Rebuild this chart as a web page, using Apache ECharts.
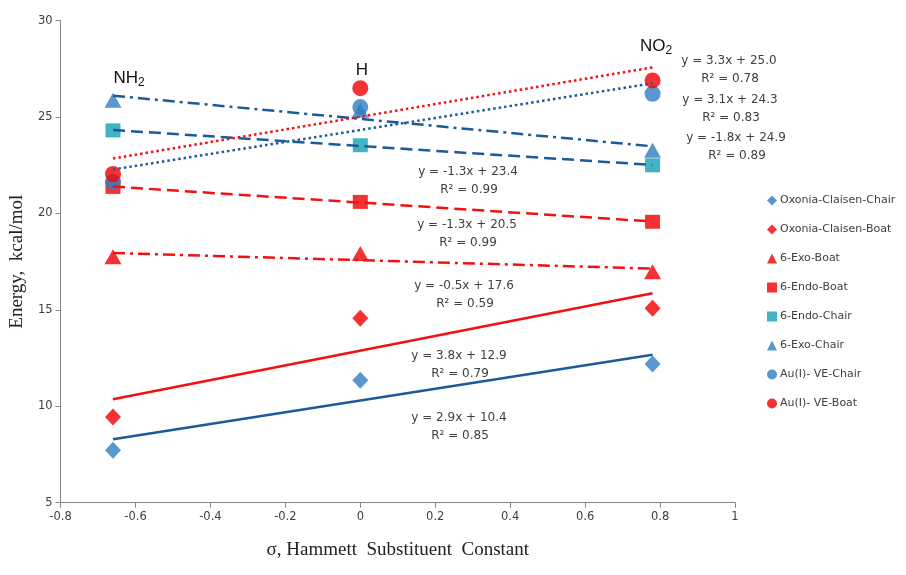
<!DOCTYPE html>
<html>
<head>
<meta charset="utf-8">
<script src="https://cdn.jsdelivr.net/npm/echarts@6/dist/echarts.min.js"></script>
<style>html,body{margin:0;padding:0;background:#fff;}#c{width:906px;height:575px;}</style>
</head>
<body>
<div id="c"></div>
<script>
// ---- data ----
const sigma = [-0.66, 0, 0.78];
const seriesNames = ['Oxonia-Claisen-Chair','Oxonia-Claisen-Boat','6-Exo-Boat','6-Endo-Boat','6-Endo-Chair','6-Exo-Chair','Au(I)- VE-Chair','Au(I)- VE-Boat'];
const oxoniaChair = [7.72, 11.35, 12.19];
const oxoniaBoat  = [9.45, 14.57, 15.09];
const exoBoat     = [17.76, 17.93, 16.98];
const endoBoat    = [21.38, 20.60, 19.57];
const endoChair   = [24.31, 23.54, 22.50];
const exoChair    = [25.87, 25.35, 23.28];
const veChair     = [21.64, 25.52, 26.21];
const veBoat      = [22.05, 26.50, 26.90];
const equations = ['y = 2.9x + 10.4','y = 3.8x + 12.9','y = -0.5x + 17.6','y = -1.3x + 20.5','y = -1.3x + 23.4','y = -1.8x + 24.9','y = 3.1x + 24.3','y = 3.3x + 25.0'];
const rSquared  = ['R² = 0.85','R² = 0.79','R² = 0.59','R² = 0.99','R² = 0.99','R² = 0.89','R² = 0.83','R² = 0.78'];
const xTicks = [-0.8, -0.6, -0.4, -0.2, 0, 0.2, 0.4, 0.6, 0.8, 1];
const yTicks = [5, 10, 15, 20, 25, 30];

const allY = [oxoniaChair, oxoniaBoat, exoBoat, endoBoat, endoChair, exoChair, veChair, veBoat];
const BLUE = '#2E7EC2', RED = '#F00000', TEAL = '#14A0B4';
const markerColors = [BLUE, RED, RED, RED, TEAL, BLUE, BLUE, RED];
const symbols = ['diamond','diamond','triangle','rect','rect','triangle','circle','circle'];
const symbolSizes = [[16,17],[16,17],[17,15],[15,14],[15,14],[17,15],[16,16],[16,16]];
const DBLUE = '#1C5A9A', LRED = '#F21010';
const lineColors = [DBLUE, LRED, LRED, LRED, DBLUE, DBLUE, DBLUE, LRED];
const lineTypes = ['solid','solid',[12,5,3,5],[12,6],[12,6],[12,5,3,5],[2.5,3],[2.5,3]];

function fit(xs, ys){
  const n = xs.length;
  const mx = xs.reduce((a,b)=>a+b,0)/n, my = ys.reduce((a,b)=>a+b,0)/n;
  let sxy=0,sxx=0;
  for(let i=0;i<n;i++){sxy+=(xs[i]-mx)*(ys[i]-my);sxx+=(xs[i]-mx)**2;}
  const b = sxy/sxx, a = my-b*mx;
  const x0 = Math.min(...xs), x1 = Math.max(...xs);
  return [[x0, a+b*x0],[x1, a+b*x1]];
}

const series = [];
allY.forEach((ys,i)=>{
  series.push({
    name: seriesNames[i], type:'scatter', symbol: symbols[i], symbolSize: symbolSizes[i],
    itemStyle:{color: markerColors[i]}, z: 2,
    data: sigma.map((x,j)=>[x, ys[j]])
  });
});
allY.forEach((ys,i)=>{
  series.push({
    name: 'trend'+i, type:'line', showSymbol:false, symbol:'none', silent:true, z: 3,
    lineStyle:{color: lineColors[i], width: 2.5, type: lineTypes[i]},
    data: fit(sigma, ys)
  });
});

// equation label positions (annotation placement)
const eqPos = [[459,418],[459,356],[464,286],[467,225],[468,172],[736,138],[730,100],[729,61]];
const graphics = [];
equations.forEach((t,i)=>{
  graphics.push({type:'text', x:eqPos[i][0], y:eqPos[i][1], style:{text:t, fill:'#404040', font:'12px "DejaVu Sans"', textAlign:'center', textVerticalAlign:'middle'}});
  graphics.push({type:'text', x:eqPos[i][0]+1, y:eqPos[i][1]+17.5, style:{text:rSquared[i], fill:'#404040', font:'12px "DejaVu Sans"', textAlign:'center', textVerticalAlign:'middle'}});
});
// substituent labels
graphics.push({type:'text', x:129, y:78, style:{rich:{n:{fontSize:17,fontFamily:'Liberation Sans',fill:'#111'},s:{fontSize:12,fontFamily:'Liberation Sans',fill:'#111',padding:[10,0,0,0]}}, text:'{n|NH}{s|2}', textAlign:'center', textVerticalAlign:'middle'}});
graphics.push({type:'text', x:362, y:70, style:{text:'H', font:'17px "Liberation Sans"', fill:'#111', textAlign:'center', textVerticalAlign:'middle'}});
graphics.push({type:'text', x:656, y:46, style:{rich:{n:{fontSize:17,fontFamily:'Liberation Sans',fill:'#111'},s:{fontSize:12,fontFamily:'Liberation Sans',fill:'#111',padding:[10,0,0,0]}}, text:'{n|NO}{s|2}', textAlign:'center', textVerticalAlign:'middle'}});

const chart = echarts.init(document.getElementById('c'), null, {renderer:'canvas'});
chart.setOption({
  animation:false,
  backgroundColor:'#fff',
  grid:{left:60, right:171, top:20.7, bottom:72.3, containLabel:false},
  xAxis:{
    type:'value', min:xTicks[0], max:xTicks[xTicks.length-1], interval:0.2,
    name:'σ, Hammett  Substituent  Constant', nameLocation:'middle', nameGap:38,
    nameTextStyle:{fontFamily:'Liberation Serif', fontSize:19, color:'#222'},
    axisLine:{onZero:false, lineStyle:{color:'#868686', width:1}},
    axisTick:{show:true, length:5, lineStyle:{color:'#868686'}},
    axisLabel:{fontFamily:'DejaVu Sans', fontSize:11.5, color:'#404040', margin:8, formatter:v=>String(Math.round(v*10)/10)},
    splitLine:{show:false}
  },
  yAxis:{
    type:'value', min:yTicks[0], max:yTicks[yTicks.length-1], interval:5,
    name:'Energy,  kcal/mol', nameLocation:'middle', nameGap:32,
    nameTextStyle:{fontFamily:'Liberation Serif', fontSize:19, color:'#222'},
    axisLine:{show:true, onZero:false, lineStyle:{color:'#868686', width:1}},
    axisTick:{show:true, length:5, lineStyle:{color:'#868686'}},
    axisLabel:{fontFamily:'DejaVu Sans', fontSize:11.5, color:'#404040', margin:8},
    splitLine:{show:false}
  },
  legend:{
    data: seriesNames.map((n,i)=>({name:n, icon:symbols[i]})),
    orient:'vertical', left:762, top:190, itemGap:18, itemWidth:10, itemHeight:10,
    textStyle:{fontFamily:'DejaVu Sans', fontSize:11, color:'#404040', padding:[0,0,0,-2]},
    selectedMode:false
  },
  series: series,
  graphic: graphics
});
</script>
</body>
</html>
